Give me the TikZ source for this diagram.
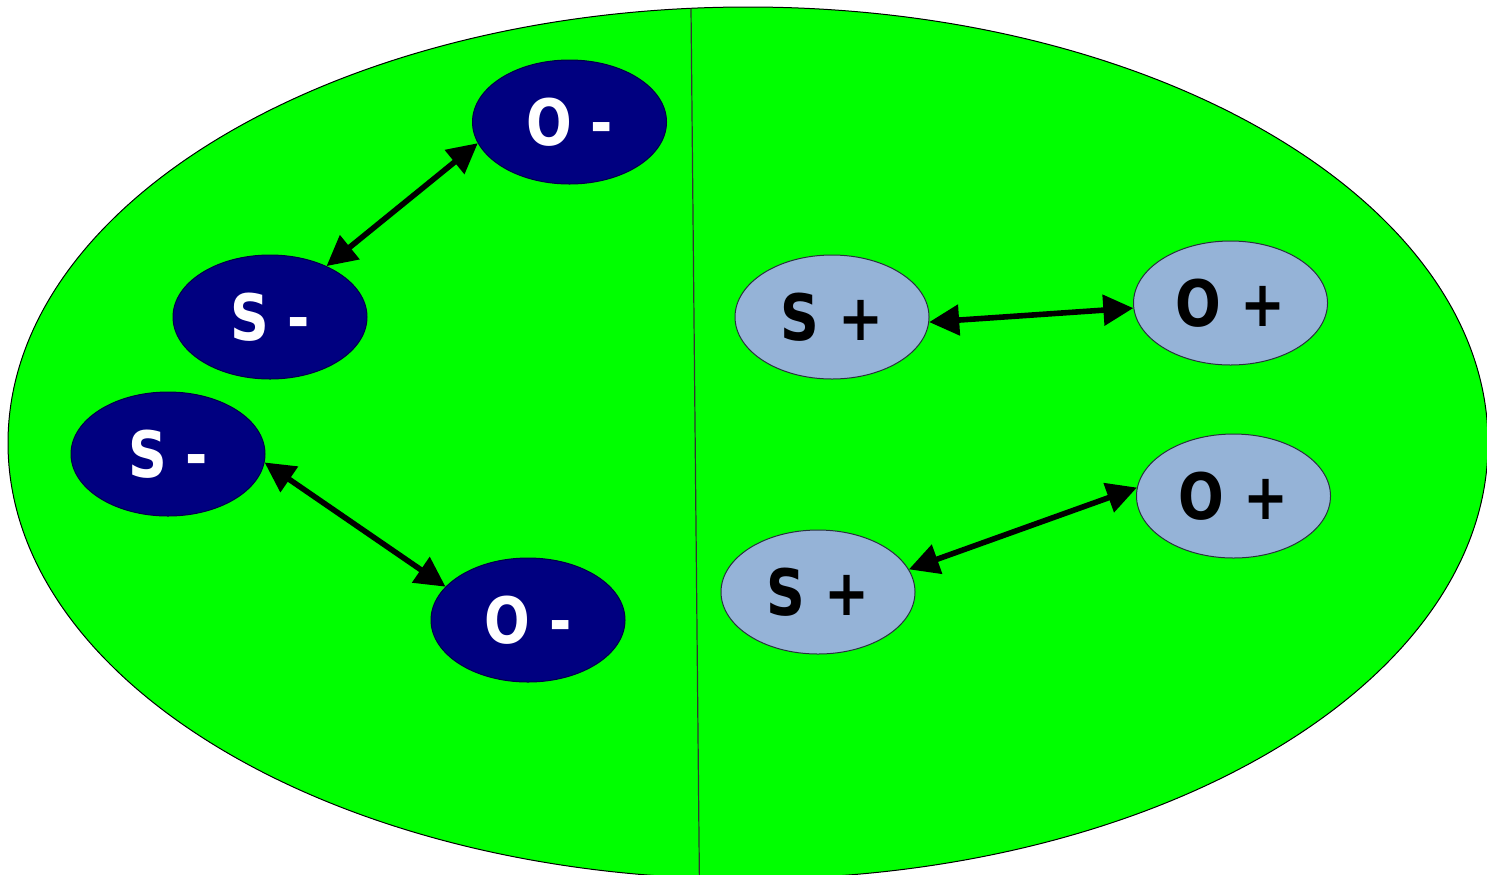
\documentclass[tikz,border=0pt]{standalone}
\usepackage{fontspec}
\usepackage{graphicx}
\usetikzlibrary{arrows.meta,shapes.geometric}
\newfontfamily\lblfont{DejaVu Sans}
\definecolor{field}{RGB}{0,255,0}
\definecolor{navy}{RGB}{0,0,128}
\definecolor{navyedge}{RGB}{0,0,70}
\definecolor{paleblue}{RGB}{149,179,215}
\definecolor{paleedge}{RGB}{40,50,60}
\newcommand{\lbl}[1]{\scalebox{0.84}[1]{\lblfont\bfseries\fontsize{32pt}{32pt}\selectfont #1}}
\tikzset{
  negball/.style={ellipse, minimum width=97pt, minimum height=62pt, inner sep=0pt,
    fill=navy, draw=navyedge, line width=0.5pt, text=white},
  posball/.style={ellipse, minimum width=97pt, minimum height=62pt, inner sep=0pt,
    fill=paleblue, draw=paleedge, line width=0.5pt, text=black},
  link/.style={{Triangle[length=15pt,width=15pt]}-{Triangle[length=15pt,width=15pt]}, line width=2.8pt, black},
}
\begin{document}
\begin{tikzpicture}[x=0.5pt,y=-0.5pt]
\useasboundingbox (0,0) rectangle (1487,874);
\clip (0,0) rectangle (1487,874);
\fill[white] (0,0) rectangle (1487,874);
\draw[fill=field, line width=0.5pt] (748,443) ellipse [x radius=740, y radius=436];
\coordinate (lt) at (691,8.3);
\coordinate (lb) at (699.5,890);
\draw[line width=0.6pt, black!80] (lt) -- (lb);

\node[negball] (o1) at (569.5,122) {\lbl{O -}};
\node[negball] (s1) at (270,317) {\lbl{S -}};
\node[negball] (s2) at (168,454) {\lbl{S -}};
\node[negball] (o2) at (528,620) {\lbl{O -}};
\node[posball] (s3) at (832,317) {\lbl{S +}};
\node[posball] (o3) at (1230.5,303) {\lbl{O +}};
\node[posball] (o4) at (1233.5,496) {\lbl{O +}};
\node[posball] (s4) at (818,592) {\lbl{S +}};

\draw[link] (s1.42) -- (o1.193);
\draw[link] (s2.355) -- (o2.158);
\draw[link] (s3.357) -- (o3.183);
\draw[link] (s4.14.5) -- (o4.175);
\end{tikzpicture}
\end{document}
